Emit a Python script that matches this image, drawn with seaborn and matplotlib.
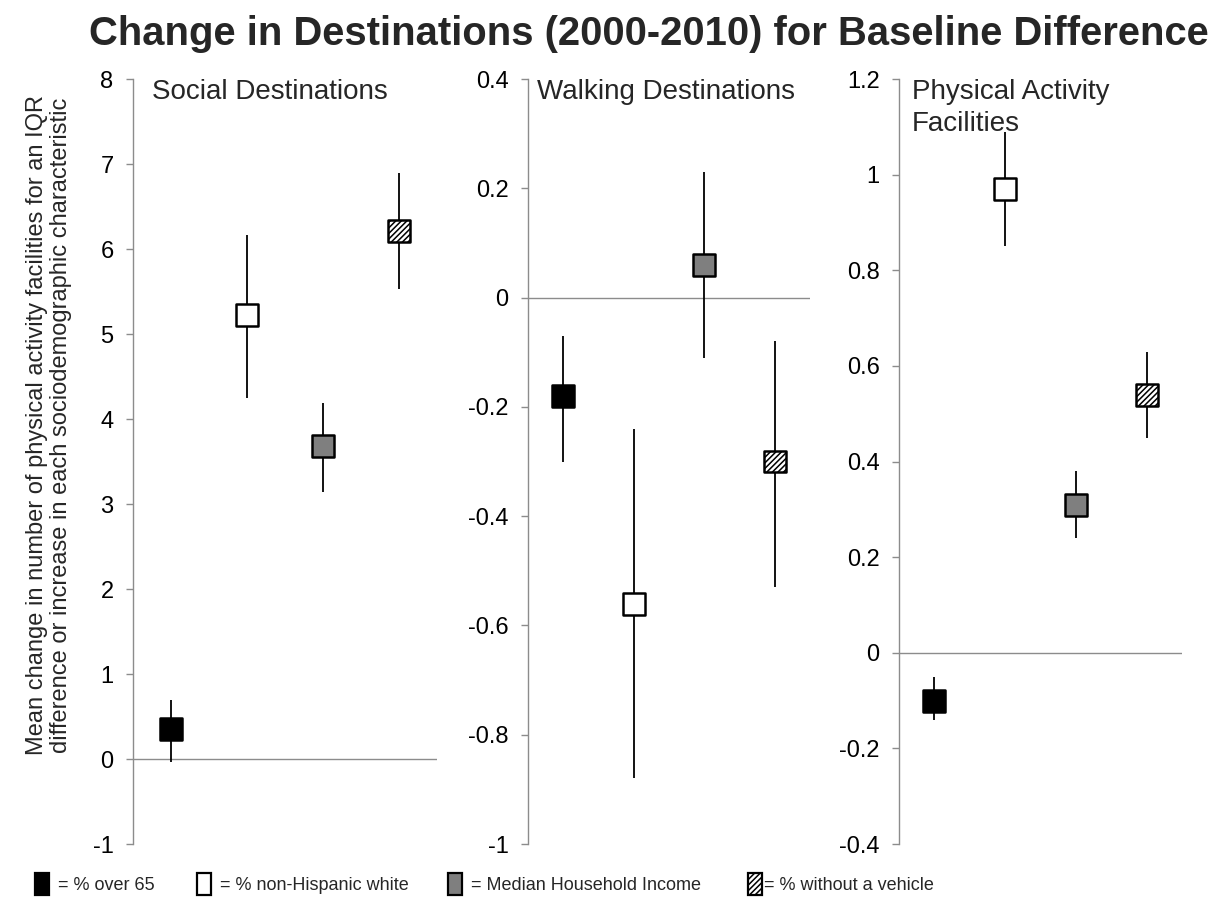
import matplotlib
matplotlib.use("Agg")
import matplotlib.pyplot as plt
from matplotlib.patches import Patch
from matplotlib.ticker import FuncFormatter, MultipleLocator
import seaborn as sns
import pandas as pd

# data
characteristics = ["% over 65", "% non-Hispanic white", "Median Household Income", "% without a vehicle"]
panels = ["Social Destinations", "Walking Destinations", "Physical Activity\nFacilities"]

social_mean = [0.35, 5.22, 3.68, 6.21]
social_lo = [-0.03, 4.25, 3.14, 5.53]
social_hi = [0.70, 6.17, 4.19, 6.89]

walking_mean = [-0.18, -0.56, 0.06, -0.30]
walking_lo = [-0.30, -0.88, -0.11, -0.53]
walking_hi = [-0.07, -0.24, 0.23, -0.08]

pa_mean = [-0.10, 0.97, 0.31, 0.54]
pa_lo = [-0.14, 0.85, 0.24, 0.45]
pa_hi = [-0.05, 1.09, 0.38, 0.63]

y_limits = [(-1, 8), (-1, 0.4), (-0.4, 1.2)]
y_steps = [1, 0.2, 0.2]

rows = []
for panel, m, lo, hi in zip(panels,
                            [social_mean, walking_mean, pa_mean],
                            [social_lo, walking_lo, pa_lo],
                            [social_hi, walking_hi, pa_hi]):
    for c, mv, l, h in zip(characteristics, m, lo, hi):
        rows.append({"panel": panel, "char": c, "mean": mv, "lo": l, "hi": h})
df = pd.DataFrame(rows)

fills = {characteristics[0]: "black", characteristics[1]: "white",
         characteristics[2]: "#7f7f7f", characteristics[3]: "white"}
hatch = "//////"

sns.set_theme(style="white")
plt.rcParams["font.family"] = ["Liberation Sans", "DejaVu Sans"]
plt.rcParams["hatch.linewidth"] = 1.1
plt.rcParams["hatch.color"] = "black"

fig = plt.figure(figsize=(12.19, 9.06), dpi=100)
axes_rects = [[0.1091, 0.0684, 0.2494, 0.8444],
              [0.4331, 0.0684, 0.2313, 0.8444],
              [0.7375, 0.0684, 0.2322, 0.8444]]
title_x = [0.0625, 0.032, 0.046]
grey = "#8c8c8c"

for i, panel in enumerate(panels):
    ax = fig.add_axes(axes_rects[i])
    sub = df[df["panel"] == panel]
    plain = sub[sub["char"] != characteristics[3]]
    patt = sub[sub["char"] == characteristics[3]]

    ax.axhline(0, color=grey, lw=1, zorder=0)
    ax.vlines(sub["char"], sub["lo"], sub["hi"], color="black", lw=1.3, zorder=1)
    sns.scatterplot(data=plain, x="char", y="mean", hue="char", palette=fills,
                    marker="s", s=250, edgecolor="black", linewidth=1.8,
                    legend=False, zorder=3, ax=ax)
    sns.scatterplot(data=patt, x="char", y="mean", color="white",
                    marker="s", s=250, edgecolor="black", linewidth=1.8,
                    hatch=hatch, legend=False, zorder=3, ax=ax)

    ax.set_xlim(-0.5, 3.5)
    ax.set_ylim(*y_limits[i])
    ax.yaxis.set_major_locator(MultipleLocator(y_steps[i]))
    ax.yaxis.set_major_formatter(FuncFormatter(lambda v, p: "%g" % round(v, 2)))
    ax.set_xticks([])
    ax.set_xlabel("")
    ax.set_ylabel("")
    for s in ["top", "right", "bottom"]:
        ax.spines[s].set_visible(False)
    ax.spines["left"].set_color(grey)
    ax.spines["left"].set_linewidth(1)
    ax.tick_params(axis="y", direction="out", length=5, width=1, color=grey,
                   pad=9, labelsize=17, labelcolor="black", left=True)
    ax.text(title_x[i], 1.0, panel, transform=ax.transAxes, ha="left", va="top",
            fontsize=20, linespacing=1.3)
    ax.set_facecolor("white")

fig.text(0.532, 1 - 45 / 906, "Change in Destinations (2000-2010) for Baseline Difference",
         ha="center", va="baseline", fontsize=28.8, fontweight="bold")
fig.text(0.040, 0.531,
         "Mean change in number of physical activity facilities for an IQR\n"
         "difference or increase in each sociodemographic characteristic",
         rotation=90, ha="center", va="center", fontsize=17, linespacing=1.1)

# legend: one small legend per entry, placed along the bottom
legend_x = [0.0287, 0.1616, 0.3675, 0.6136]
legend_pad = [0.5, 0.5, 0.5, 0.1]
for j, c in enumerate(characteristics):
    h = Patch(facecolor=fills[c], edgecolor="black", linewidth=1.6,
              hatch=hatch if j == 3 else None, label="= " + c)
    fig.legend(handles=[h], loc="center left", bbox_to_anchor=(legend_x[j], 0.0243),
               frameon=False, borderpad=0, borderaxespad=0, handlelength=0.8,
               handleheight=1.45, handletextpad=legend_pad[j],
               prop={"family": ["Liberation Sans Narrow", "Liberation Sans"],
                     "size": 13})

fig.savefig("out.png", dpi=100, facecolor="white")
